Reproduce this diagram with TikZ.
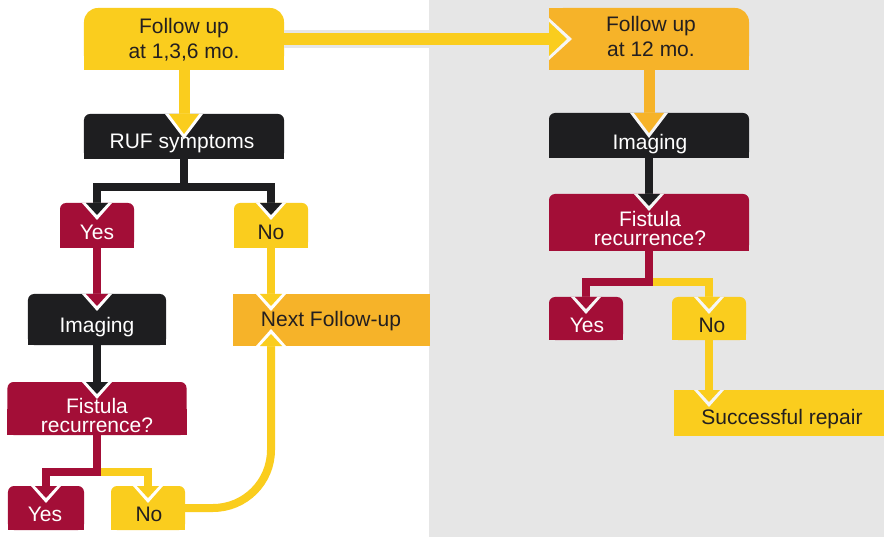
\documentclass[tikz,border=0pt]{standalone}
\usepackage{fontspec}
\setmainfont{Liberation Sans}
\usetikzlibrary{calc}

\definecolor{fyellow}{RGB}{250,205,30}
\definecolor{forange}{RGB}{246,179,41}
\definecolor{fcrimson}{RGB}{163,14,55}
\definecolor{fblack}{RGB}{30,30,32}
\definecolor{fgrey}{RGB}{230,230,230}
\definecolor{ftext}{RGB}{35,31,32}
\definecolor{fgap}{RGB}{255,255,255}
\definecolor{fgapr}{RGB}{246,246,246}

\tikzset{
  geo/.style={inner sep=0pt, outer sep=0pt, draw=none},
  bar/.style={line width=8bp},
  mainbar/.style={line width=11bp},
  tx/.style={font=\fontsize{21bp}{25bp}\selectfont, anchor=base, inner sep=0pt, align=center},
  tight/.style={font=\fontsize{21bp}{19bp}\selectfont},
  dark/.style={text=ftext},
  light/.style={text=white},
}

% box with rounded top corners and square bottom corners
\newcommand{\roundtop}[3]{%
  \fill[#2, rounded corners=#3] (#1.south west) rectangle (#1.north east);
  \fill[#2] (#1.south west) rectangle (#1.east);}
\newcommand{\squarebox}[2]{\fill[#2] (#1.south west) rectangle (#1.north east);}

% arrow heads sitting in a notch cut into the target box
% #1 colour, #2 notch colour, #3 point on box edge, #4 half width, #5 length
\newcommand{\headdown}[5]{%
  \fill[#2] ($(#3)+(-#4-4,0)$) -- ($(#3)+(#4+4,0)$) -- ($(#3)+(0,#5+5)$) -- cycle;
  \fill[#1] ($(#3)+(-#4,0)$) -- ($(#3)+(#4,0)$) -- ($(#3)+(0,#5)$) -- cycle;}
\newcommand{\headup}[5]{%
  \fill[#2] ($(#3)+(-#4-4,0)$) -- ($(#3)+(#4+4,0)$) -- ($(#3)+(0,-#5-5)$) -- cycle;
  \fill[#1] ($(#3)+(-#4,0)$) -- ($(#3)+(#4,0)$) -- ($(#3)+(0,-#5)$) -- cycle;}
\newcommand{\headright}[5]{%
  \fill[#2] ($(#3)+(0,-#4-4)$) -- ($(#3)+(0,#4+4)$) -- ($(#3)+(#5+5,0)$) -- cycle;
  \fill[#1] ($(#3)+(0,-#4)$) -- ($(#3)+(0,#4)$) -- ($(#3)+(#5,0)$) -- cycle;}

\begin{document}
\begin{tikzpicture}[x=1bp, y=-1bp]
\useasboundingbox (0,0) rectangle (884,537);
\fill[white] (0,0) rectangle (884,537);
\fill[fgrey] (429,0) rectangle (884,537);

% ---- box geometry ----
\node[geo, minimum width=200bp, minimum height=62bp] (fu1)  at (184,39) {};
\node[geo, minimum width=200bp, minimum height=45bp] (ruf)  at (184,136.5) {};
\node[geo, minimum width=74bp,  minimum height=45bp] (yes1) at (97,225.5) {};
\node[geo, minimum width=74bp,  minimum height=45bp] (no1)  at (271,225.5) {};
\node[geo, minimum width=138bp, minimum height=51bp] (img1) at (97,319.5) {};
\node[geo, minimum width=179bp, minimum height=53bp] (fis1) at (97,408.5) {};
\node[geo, minimum width=76bp,  minimum height=44bp] (yes2) at (46,508) {};
\node[geo, minimum width=74bp,  minimum height=44bp] (no2)  at (148,508) {};
\node[geo, minimum width=197bp, minimum height=52bp] (nf)   at (331.5,320) {};
\node[geo, minimum width=200bp, minimum height=62bp] (fu2)  at (649,39) {};
\node[geo, minimum width=200bp, minimum height=45bp] (img2) at (649,135.5) {};
\node[geo, minimum width=200bp, minimum height=57bp] (fis2) at (649,222.5) {};
\node[geo, minimum width=74bp,  minimum height=43bp] (yes3) at (586,318.5) {};
\node[geo, minimum width=74bp,  minimum height=43bp] (no3)  at (709,318.5) {};
\node[geo, minimum width=210bp, minimum height=46bp] (sr)   at (779,413) {};

% ---- box fills ----
\roundtop{fu1}{fyellow}{14bp}
\roundtop{ruf}{fblack}{6bp}
\roundtop{yes1}{fcrimson}{6bp}
\roundtop{no1}{fyellow}{6bp}
\roundtop{img1}{fblack}{6bp}
\roundtop{fis1}{fcrimson}{6bp}
\roundtop{yes2}{fcrimson}{6bp}
\roundtop{no2}{fyellow}{6bp}
\squarebox{nf}{forange}
\roundtop{fu2}{forange}{14bp}
\fill[forange] (fu2.south west) rectangle (fu2.north);
\roundtop{img2}{fblack}{6bp}
\roundtop{fis2}{fcrimson}{6bp}
\roundtop{yes3}{fcrimson}{6bp}
\roundtop{no3}{fyellow}{6bp}
\squarebox{sr}{fyellow}

% ---- connectors ----
\draw[mainbar, fyellow] (fu1.south) -- (ruf.north);
\headdown{fyellow}{fgap}{ruf.north}{15}{20}

\draw[line width=18bp, fgrey] (fu1.east) -- (fu2.west);
\draw[line width=12bp, fyellow] (fu1.east) -- (fu2.west);
\headright{fyellow}{fgapr}{fu2.west}{17}{18}

\draw[mainbar, forange] (fu2.south) -- (img2.north);
\headdown{forange}{fgapr}{img2.north}{15}{20}

% RUF symptoms: yes / no
\coordinate (rj) at ($(ruf.south)+(0,28)$);
\draw[bar, fblack] (ruf.south) -- (rj);
\draw[bar, fblack] (rj) -| (yes1.north);
\draw[bar, fblack] (rj) -| (no1.north);
\headdown{fblack}{fgap}{yes1.north}{11}{12}
\headdown{fblack}{fgap}{no1.north}{11}{12}

\draw[bar, fcrimson] (yes1.south) -- (img1.north);
\headdown{fcrimson}{fgap}{img1.north}{11}{12}
\draw[bar, fblack] (img1.south) -- (fis1.north);
\headdown{fblack}{fgap}{fis1.north}{11}{12}

% fistula recurrence (left)
\coordinate (fj) at ($(fis1.south)+(0,37)$);
\draw[bar, fyellow] (fj) -| (no2.north);
\draw[bar, fcrimson] (fis1.south) -- (fj) -| (yes2.north);
\headdown{fcrimson}{fgap}{yes2.north}{11}{12}
\headdown{fyellow}{fgap}{no2.north}{11}{12}

% into next follow-up
\coordinate (nfin) at (no1.south |- nf.north);
\coordinate (nfup) at (no1.south |- nf.south);
\draw[bar, fyellow] (no1.south) -- (nfin);
\headdown{fyellow}{fgap}{nfin}{11}{12}
\draw[bar, fyellow, rounded corners=58bp] (no2.east) -| (nfup);
\headup{fyellow}{fgap}{nfup}{11}{12}

% right column
\draw[bar, fblack] (img2.south) -- (fis2.north);
\headdown{fblack}{fgapr}{fis2.north}{11}{12}
\coordinate (gj) at ($(fis2.south)+(0,31)$);
\draw[bar, fyellow] (gj) -| (no3.north);
\draw[bar, fcrimson] (fis2.south) -- (gj) -| (yes3.north);
\headdown{fcrimson}{fgapr}{yes3.north}{11}{12}
\headdown{fyellow}{fgapr}{no3.north}{11}{12}
\coordinate (srin) at (no3.south |- sr.north);
\draw[bar, fyellow] (no3.south) -- (srin);
\headdown{fyellow}{fgapr}{srin}{11}{12}

% ---- labels (base anchor sits on the last line) ----
\node[tx, dark]  (fu1t)  at (184,59)  {Follow up\\at 1,3,6 mo.};
\node[tx, dark]  (fu2t)  at (651,57)  {Follow up\\at 12 mo.};
\node[tx, light] (ruft)  at (182,149) {RUF symptoms};
\node[tx, light] (yes1t) at (97,240)  {Yes};
\node[tx, dark]  (no1t)  at (271,240) {No};
\node[tx, light] (img1t) at (97,333)  {Imaging};
\node[tx, tight, light] (fis1t) at (97,432) {Fistula\\recurrence?};
\node[tx, light] (yes2t) at (45,521)  {Yes};
\node[tx, dark]  (no2t)  at (149,521) {No};
\node[tx, dark]  (nft)   at (331,327) {Next Follow-up};
\node[tx, light] (img2t) at (650,150) {Imaging};
\node[tx, tight, light] (fis2t) at (650,246) {Fistula\\recurrence?};
\node[tx, light] (yes3t) at (587,333) {Yes};
\node[tx, dark]  (no3t)  at (712,333) {No};
\node[tx, dark]  (srt)   at (782,424) {Successful repair};
\end{tikzpicture}
\end{document}
